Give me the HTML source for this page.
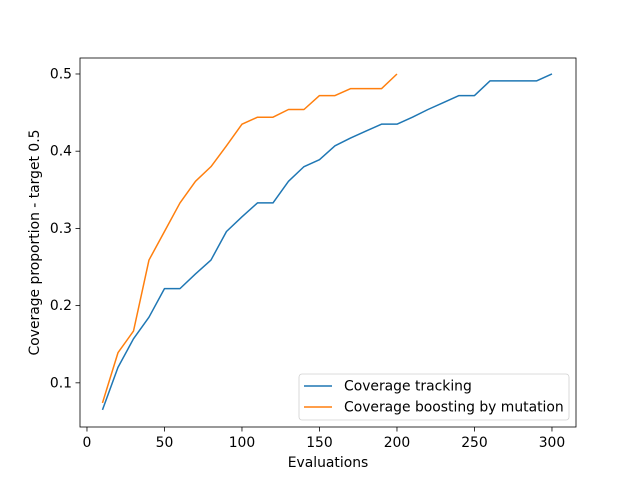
<!DOCTYPE html>
<html><head><meta charset="utf-8"><style>body{margin:0;background:#fff}svg{font-family:"DejaVu Sans","Liberation Sans",sans-serif}</style></head>
<body>
<svg id="c" width="640" height="480" xmlns="http://www.w3.org/2000/svg"></svg>
<script>
const xsBlue=[10,20,30,40,50,60,70,80,90,100,110,120,130,140,150,160,170,180,190,200,210,220,230,240,250,260,270,280,290,300];
const blueVals=[0.065,0.12,0.157,0.185,0.222,0.222,0.241,0.259,0.296,0.315,0.333,0.333,0.361,0.380,0.389,0.407,0.417,0.426,0.435,0.435,0.444,0.454,0.463,0.472,0.472,0.491,0.491,0.491,0.491,0.5];
const xsOrange=[10,20,30,40,50,60,70,80,90,100,110,120,130,140,150,160,170,180,190,200];
const orangeVals=[0.074,0.139,0.167,0.259,0.296,0.333,0.361,0.380,0.407,0.435,0.444,0.444,0.454,0.454,0.472,0.472,0.481,0.481,0.481,0.5];
const xTicks=[0,50,100,150,200,250,300];
const yTicks=[0.1,0.2,0.3,0.4,0.5];
const L=80,R=576,T=58,B=427,xmin=-4.5,xmax=315.5,ymin=0.0428,ymax=0.5207;
const FS=13.9;
const X=v=>L+(v-xmin)/(xmax-xmin)*(R-L);
const Y=v=>B-(v-ymin)/(ymax-ymin)*(B-T);
const svg=document.getElementById('c');const NS='http://www.w3.org/2000/svg';
function mk(t,a,txt){const e=document.createElementNS(NS,t);for(const k in a)e.setAttribute(k,a[k]);if(txt!=null)e.textContent=txt;svg.appendChild(e);return e;}
let e=mk('rect',{x:L,y:T,width:R-L,height:B-T,fill:'none',stroke:'#000','stroke-width':0.8});


xTicks.forEach(t=>{const x=X(t);
let l=mk('line',{x1:x,x2:x,y1:B,y2:B+4.5,stroke:'#000','stroke-width':0.8});


let s=mk('text',{x:x,y:B+20,'font-size':FS,'text-anchor':'middle'},String(t));

});
yTicks.forEach(t=>{const y=Y(t);
let l=mk('line',{x1:L-4.5,x2:L,y1:y,y2:y,stroke:'#000','stroke-width':0.8});


let s=mk('text',{x:L-8,y:y+4.5,'font-size':FS,'text-anchor':'end'},t.toFixed(1));

});
e=mk('text',{x:(L+R)/2,y:467,'font-size':FS,'text-anchor':'middle'},'Evaluations');


e=mk('text',{x:0,y:0,'font-size':FS,'text-anchor':'middle',transform:`translate(39,${(T+B)/2}) rotate(-90)`},'Coverage proportion - target 0.5');


function line(xs,vs,c,name){const p=xs.map((x,i)=>X(x)+','+Y(vs[i])).join(' ');
const el=mk('polyline',{points:p,fill:'none',stroke:c,'stroke-width':1.5,'stroke-linejoin':'round'});

}
line(xsBlue,blueVals,'#1f77b4','series-coverage-tracking');
line(xsOrange,orangeVals,'#ff7f0e','series-coverage-boosting');
e=mk('rect',{x:299,y:374,width:270,height:46,rx:3,fill:'#fff',stroke:'#ccc','stroke-width':0.8,opacity:0.9});


[['Coverage tracking','#1f77b4',386],['Coverage boosting by mutation','#ff7f0e',407]].forEach(([t,c,y])=>{
let l=mk('line',{x1:304,x2:332,y1:y,y2:y,stroke:c,'stroke-width':1.5});


let s=mk('text',{x:344,y:y+4.5,'font-size':FS},t);

});
</script>
</body></html>
